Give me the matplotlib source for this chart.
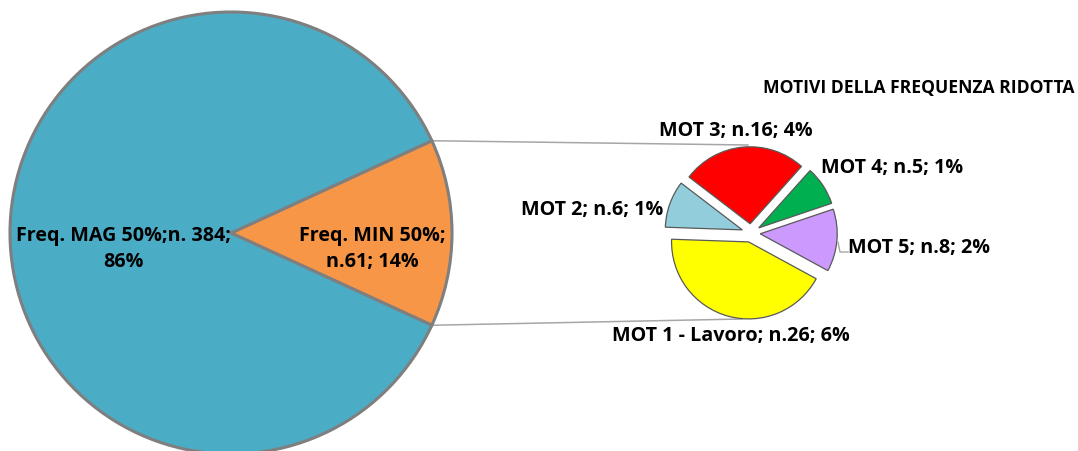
import numpy as np
import matplotlib
matplotlib.use("Agg")
import matplotlib.pyplot as plt

# ---- data ----
main_labels = ["Freq. MIN 50%;\nn.61; 14%", "Freq. MAG 50%;n. 384;\n86%"]
main_values = [61, 384]
main_colors = ["#F79646", "#4BACC6"]

sub_labels = ["MOT 1 - Lavoro; n.26; 6%", "MOT 5; n.8; 2%", "MOT 4; n.5; 1%",
              "MOT 3; n.16; 4%", "MOT 2; n.6; 1%"]
sub_values = [26, 8, 5, 16, 6]
sub_colors = ["#FFFF00", "#CC99FF", "#00B050", "#FF0000", "#92CDDC"]

title = "MOTIVI DELLA FREQUENZA RIDOTTA"

W, H = 1078, 452
fig = plt.figure(figsize=(W / 100, H / 100), dpi=100)
ax = fig.add_axes([0, 0, 1, 1])

def Y(y):
    return H - y

FONT = "Open Sans"
FS = 14.2

# main pie
mcx, mcy, mr = 231, Y(234), 221
half = 180.0 * main_values[0] / sum(main_values)
ax.pie(main_values, colors=main_colors, startangle=-half, counterclock=True,
       center=(mcx, mcy), radius=mr, frame=True,
       wedgeprops=dict(edgecolor="#7F7F7F", linewidth=2.2))

# secondary pie
scx, scy, sr, ex = 751, Y(234), 77, 0.12
ax.pie(sub_values, colors=sub_colors, startangle=178, counterclock=True,
       center=(scx, scy), radius=sr, explode=[ex * sr] * len(sub_values),
       frame=True, wedgeprops=dict(edgecolor="#595959", linewidth=0.9))

# connector lines
t = np.deg2rad(half)
ax.plot([mcx + mr * np.cos(t), scx - 3], [mcy + mr * np.sin(t), Y(146)],
        color="#A6A6A6", lw=1.1, zorder=0)
ax.plot([mcx + mr * np.cos(t), scx - 9], [mcy - mr * np.sin(t), Y(320)],
        color="#A6A6A6", lw=1.1, zorder=0)

tk = dict(fontfamily=FONT, fontweight="bold", fontsize=FS, color="black",
          ha="center", va="center", linespacing=1.35)

# main labels
ax.text(123, Y(249), main_labels[1], **tk)
ax.text(372, Y(249), main_labels[0], **tk)

# secondary labels
ax.text(731, Y(336), sub_labels[0], **tk)
ax.text(919, Y(248), sub_labels[1], **tk)
ax.text(892, Y(168), sub_labels[2], **tk)
ax.text(736, Y(131), sub_labels[3], **tk)
ax.text(592, Y(210), sub_labels[4], **tk)

# leader for MOT 5
ax.plot([838, 840, 848], [Y(243), Y(253), Y(253)], color="#A6A6A6", lw=1)

# title
ax.text(919, Y(88), title, fontfamily=FONT, fontweight="bold", fontsize=12.6,
        color="black", ha="center", va="center")

ax.set_xlim(0, W)
ax.set_ylim(0, H)
ax.set_aspect("auto")
ax.axis("off")
fig.savefig("out.png", dpi=100, facecolor="white")
